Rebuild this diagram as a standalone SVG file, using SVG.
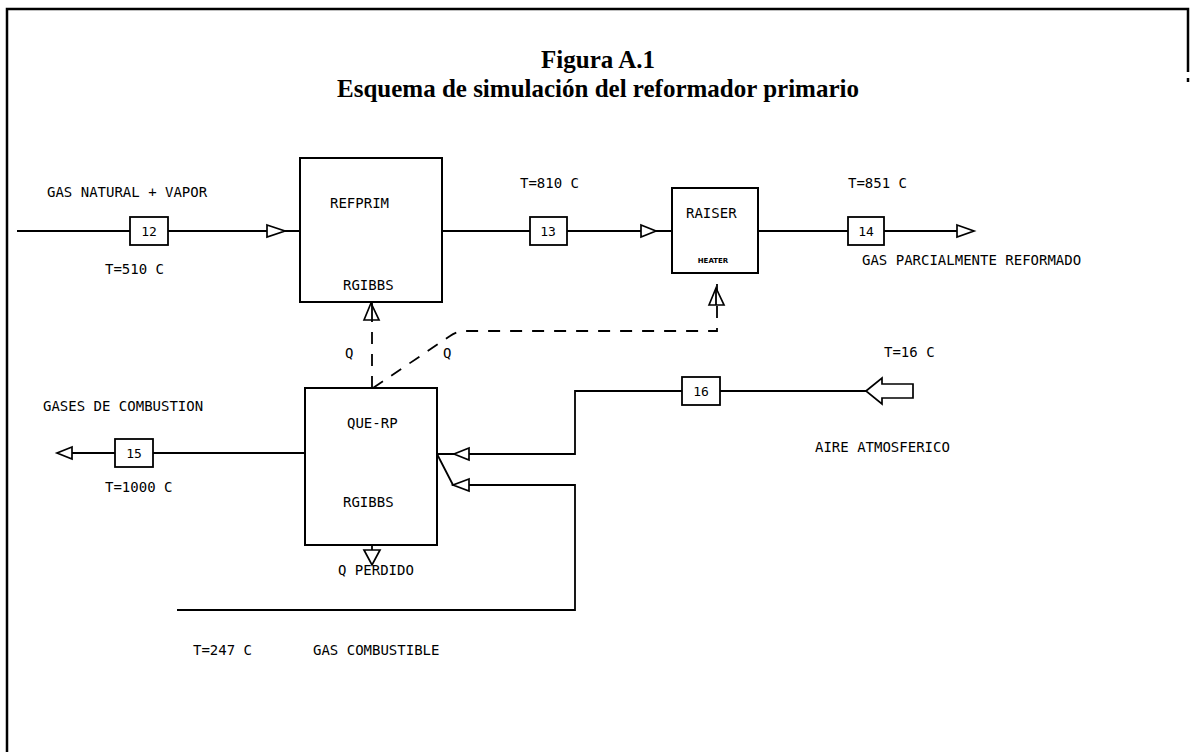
<svg xmlns="http://www.w3.org/2000/svg" width="1191" height="752" viewBox="0 0 1191 752">
<style>
.frame{stroke:#000;stroke-width:2.5;fill:none}
.ln{stroke:#000;stroke-width:1.8;fill:none}
.blk{stroke:#000;stroke-width:2;fill:#fff}
.sb{stroke:#000;stroke-width:1.8;fill:#fff}
.dash{stroke:#000;stroke-width:1.8;fill:none;stroke-dasharray:12 10}
.tri{stroke:#000;stroke-width:1.7;fill:#fff}
.t{font-family:"DejaVu Sans Mono","Liberation Mono",monospace;font-size:14px;fill:#000}
.ts{font-family:"DejaVu Sans Mono","Liberation Mono",monospace;font-size:13px;fill:#000;text-anchor:middle}
.ti{font-family:"Liberation Serif","Times New Roman",serif;font-weight:bold;font-size:25px;fill:#000;text-anchor:middle}
</style>
<rect width="1191" height="752" fill="#fff"/>
<g id="frame">
<path class="frame" d="M7,752 L7,9 L1188,9 L1188,72"/>
<path class="frame" d="M1188,78 L1188,82"/>
</g>
<g id="title">
<text class="ti" x="598" y="68">Figura A.1</text>
<text class="ti" x="598" y="97">Esquema de simulación del reformador primario</text>
</g>
<g id="connectors">
<path class="ln" d="M17,231 L130,231 M168,231 L300,231"/>
<path class="ln" d="M442,231 L530,231 M567,231 L672,231"/>
<path class="ln" d="M758,231 L848,231 M884,231 L974,231"/>
<path class="ln" d="M305,453 L153,453 M115,453 L57,453"/>
<path class="ln" d="M866,391 L720,391 M682,391 L575,391 L575,454 L437,454"/>
<path class="ln" d="M177,610 L575,610 L575,485 L453,485 L437,454"/>
<path class="ln" d="M372,545 L372,564"/>
<path class="dash" d="M372,388 L372,302"/>
<path class="dash" d="M373,388 L450,336 Q457,331 466,331 L717,331 L717,273"/>
<path class="tri" d="M267,225 L285,231 L267,237 Z"/>
<path class="tri" d="M641,225 L656,231 L641,237 Z"/>
<path class="tri" d="M957,225 L974,231 L957,237 Z"/>
<path class="tri" d="M72,447 L57,453 L72,459 Z"/>
<path class="tri" d="M469,448 L454,454 L469,460 Z"/>
<path class="tri" d="M469,479 L453,485 L469,491 Z"/>
<path class="tri" d="M364,320 L371,303 L379,320 Z"/>
<path class="tri" d="M709,305 L716,288 L724,305 Z"/>
<path class="tri" d="M364,550 L372,565 L380,550 Z"/>
<path class="ln" d="M372,320 L372,303 M716,305 L716,288"/>
<path class="tri" d="M866,391 L882,378 L882,384 L913,384 L913,398 L882,398 L882,404 Z"/>
</g>
<g id="REFPRIM">
<rect class="blk" x="300" y="158" width="142" height="144"/>
<text class="t" x="330" y="208">REFPRIM</text>
<text class="t" x="343" y="290">RGIBBS</text>
</g>
<g id="RAISER">
<rect class="blk" x="672" y="188" width="86" height="85"/>
<text class="t" x="686" y="218">RAISER</text>
<text x="713" y="263" font-family="DejaVu Sans" font-size="7" font-weight="bold" text-anchor="middle">HEATER</text>
</g>
<g id="QUE-RP">
<rect class="blk" x="305" y="388" width="132" height="157"/>
<text class="t" x="347" y="428">QUE-RP</text>
<text class="t" x="343" y="507">RGIBBS</text>
</g>
<g id="s12"><rect class="sb" x="130" y="217" width="38" height="28"/><text class="ts" x="149" y="236">12</text></g>
<g id="s13"><rect class="sb" x="530" y="217" width="37" height="28"/><text class="ts" x="548" y="236">13</text></g>
<g id="s14"><rect class="sb" x="848" y="217" width="36" height="28"/><text class="ts" x="866" y="236">14</text></g>
<g id="s15"><rect class="sb" x="115" y="439" width="38" height="28"/><text class="ts" x="134" y="458">15</text></g>
<g id="s16"><rect class="sb" x="682" y="377" width="38" height="28"/><text class="ts" x="701" y="396">16</text></g>
<g id="labels">
<text class="t" x="47" y="197">GAS NATURAL + VAPOR</text>
<text class="t" x="105" y="274">T=510 C</text>
<text class="t" x="520" y="188">T=810 C</text>
<text class="t" x="848" y="188">T=851 C</text>
<text class="t" x="862" y="265">GAS PARCIALMENTE REFORMADO</text>
<text class="t" x="345" y="358">Q</text>
<text class="t" x="443" y="358">Q</text>
<text class="t" x="884" y="357">T=16 C</text>
<text class="t" x="43" y="411">GASES DE COMBUSTION</text>
<text class="t" x="105" y="492">T=1000 C</text>
<text class="t" x="815" y="452">AIRE ATMOSFERICO</text>
<text class="t" x="338" y="575">Q PERDIDO</text>
<text class="t" x="193" y="655">T=247 C</text>
<text class="t" x="313" y="655">GAS COMBUSTIBLE</text>
</g>
</svg>
